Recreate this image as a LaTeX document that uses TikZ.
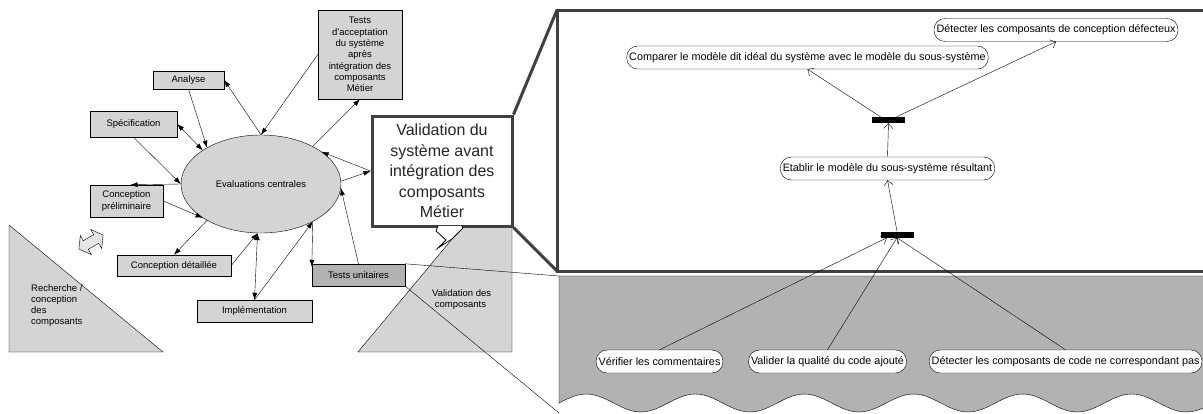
\documentclass[tikz,border=0pt]{standalone}
\usepackage{fontspec}
\setmainfont{Liberation Sans}
\usetikzlibrary{shapes.geometric,arrows.meta}
\definecolor{ltgray}{HTML}{D4D4D4}
\definecolor{mdgray}{HTML}{B2B2B2}
\definecolor{framegray}{HTML}{404040}
\begin{document}
\begin{tikzpicture}[x=1pt,y=-1pt]
		\tikzstyle{box} = [draw, fill=ltgray, inner sep=1pt, align=center, font=\fontsize{9.5}{11.3}\selectfont]
		\tikzstyle{act} = [draw, fill=white, rounded corners=11pt, minimum height=23pt, inner xsep=2.5pt, inner ysep=0pt, font=\fontsize{10.8}{12}\selectfont]
		\tikzstyle{bar} = [fill=black, minimum width=33pt, minimum height=6pt, inner sep=0pt]
		\tikzstyle{arr} = [-{Latex[length=7pt,width=5pt]}]
		\tikzstyle{both} = [{Latex[length=7pt,width=5pt]}-{Latex[length=7pt,width=5pt]}]
		\tikzstyle{flow} = [-{Straight Barb[length=5pt,width=9pt]}]

		\useasboundingbox (0,0) rectangle (1203,413);
		\clip (0,0) rectangle (1203,413);

		% Background shapes
		\draw[fill=ltgray] (9,225) -- (163,352) -- (9,352) -- cycle;
		\node[align=left, anchor=north west, inner sep=0pt, font=\fontsize{9.5}{11.3}\selectfont] (rc) at (31,284) {Recherche /\\conception\\des\\composants};
		\begin{scope}[shift={(91,242)}, rotate=30]
			\draw[fill=ltgray!60] (-14,0) -- (-6,-11) -- (-6,-5) -- (6,-5) -- (6,-11) -- (14,0)
				-- (6,11) -- (6,5) -- (-6,5) -- (-6,11) -- cycle;
		\end{scope}
		\draw[fill=ltgray] (358,352) -- (512,167) -- (512,352) -- cycle;
		\node[align=left, anchor=north west, inner sep=0pt, font=\fontsize{9.5}{11.3}\selectfont] (vc) at (432,289) {Validation des\\\ composants};

		% Zoomed part
		\coordinate (z1) at (559,276);
		\coordinate (z2) at (559,413);
		\draw[fill=mdgray] (1215,276) -- (z1) -- (559,404)
			-- plot[domain=559:1215, samples=150] (\x,{403-9*sin((\x-559)*3.3)}) -- cycle;
		\coordinate (f1) at (557,10);
		\coordinate (f2) at (557,271);
		\draw[line width=3pt, draw=framegray, fill=white] (f1) rectangle (1215,271);

		% Define nodes of the cycle
		\node[ellipse, draw, fill=ltgray, minimum width=160pt, minimum height=98pt, font=\fontsize{9.5}{11.3}\selectfont] (ev) at (261,184) {Evaluations centrales};
		\node[box, minimum width=71pt, minimum height=18pt] (ana) at (188.5,80) {Analyse};
		\node[box, minimum width=87pt, minimum height=26pt] (spe) at (133.5,124) {Spécification};
		\node[box, minimum width=84pt, minimum height=89pt] (acc) at (360,54.5) {Tests\\d'acceptation\\du système\\après\\intégration des\\composants\\Métier};
		\node[box, minimum width=73pt, minimum height=32pt] (pre) at (126.5,201) {Conception\\préliminaire};
		\node[box, minimum width=114pt, minimum height=21pt] (det) at (174,265.5) {Conception détaillée};
		\node[box, minimum width=115pt, minimum height=22pt] (imp) at (254.5,311) {Implémentation};
		\node[box, fill=mdgray, minimum width=93pt, minimum height=22pt] (tu) at (358.5,275) {Tests unitaires};
		\node[draw=framegray, line width=3pt, fill=white, text=black!85, minimum width=140pt, minimum height=110pt, align=center, font=\fontsize{16}{20.5}\selectfont] (val) at (442,171) {Validation du\\système avant\\intégration des\\composants\\Métier};
		\draw[fill=white, line width=0.8pt] (438,226) -- (436,231) -- (446,240) -- (438,248) -- (452,239) -- (463,228) -- (462,226);

		% Zoom lines
		\draw[line width=3pt, framegray] (val.north east) -- (f1);
		\draw[line width=3pt, framegray] (val.south east) -- (f2);
		\draw (tu.north east) -- (z1);
		\draw (tu.south east) -- (z2);

		% Connectors around the central evaluation
		\draw[arr] (ana.south) -- (ev.146);
		\draw[arr] (ev.north) -- (ana.east);
		\draw[arr] (acc.west) -- (ev.north);
		\draw[both] (spe.east) -- (ev.150);
		\draw[arr] (spe.south) -- (ev.180);
		\draw[arr] (ev.180) -- ([xshift=4pt]pre.north);
		\draw[arr] (pre.east) -- (ev.210);
		\draw[arr] (ev.214) -- (det.north);
		\draw[arr] (det.east) -- (ev.266);
		\draw[both] (imp.north) -- (ev.266);
		\draw[arr] (imp.north) -- (ev.324);
		\draw[arr] (ev.324) -- ([yshift=-3pt]tu.north west);
		\draw[arr] (tu.north) -- (ev.357);
		\draw[arr] (val.west) -- (ev.28);
		\draw[arr] (ev.2) -- (val.west);
		\draw[arr] (ev.36) -- (acc.south);

		% Activities of the validation
		\node[act] (dcc) at (1056,30) {Détecter les composants de conception défecteux};
		\node[act] (cmp) at (807.5,57.5) {Comparer le modèle dit idéal du système avec le modèle du sous-système};
		\node[bar] (b1) at (888.5,120) {};
		\node[act] (etb) at (887.5,168.5) {Etablir le modèle du sous-système résultant};
		\node[bar] (b2) at (897,234.5) {};
		\node[act] (ver) at (659.5,361.5) {Vérifier les commentaires};
		\node[act] (vq) at (827.5,361.5) {Valider la qualité du code ajouté};
		\node[act, anchor=west] (dco) at (929,361.5) {Détecter les composants de code ne correspondant pas};

		\draw[flow] ([xshift=-8pt]b1.north) -- (cmp.south);
		\draw[flow] ([xshift=8pt]b1.north) -- (dcc.south);
		\draw[flow] (etb.north) -- (b1.south);
		\draw[flow] (b2.north) -- (etb.south);
		\draw[flow] (ver.north) -- ([xshift=-10pt]b2.south);
		\draw[flow] (vq.north) -- (b2.south);
		\draw[flow] (dco.north) -- (b2.south);

		\end{tikzpicture}
\end{document}
